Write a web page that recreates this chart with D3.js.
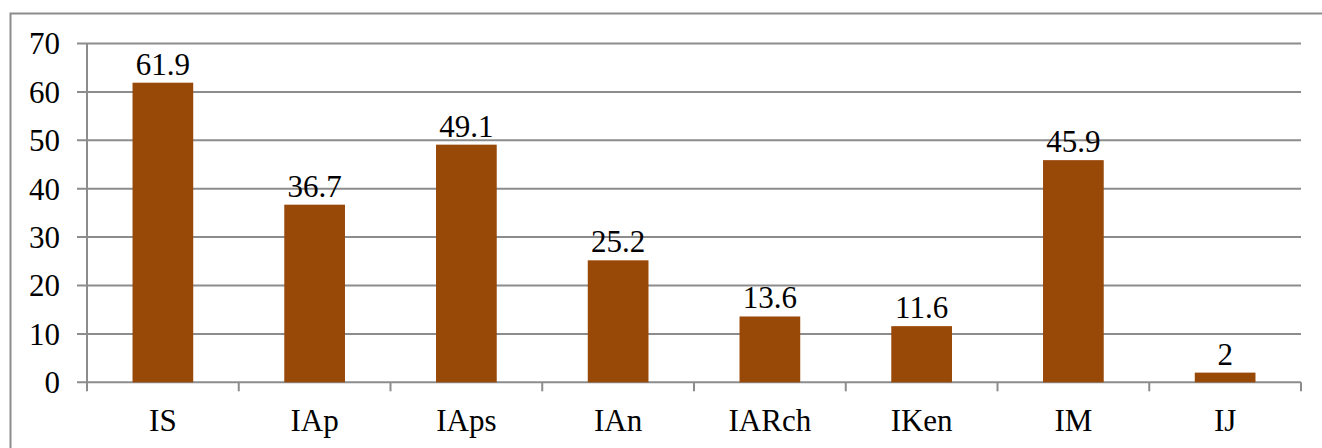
<!DOCTYPE html>
<html>
<head>
<meta charset="utf-8">
<script src="https://cdn.jsdelivr.net/npm/d3@7"></script>
<style>
  html, body { margin: 0; padding: 0; background: #fff; }
  svg { display: block; }
  text { font-family: "Liberation Serif", "Times New Roman", serif; fill: #000; }
</style>
</head>
<body>
<svg id="chart" width="1322" height="448"></svg>
<script>
// Index values per category
const categories = ["IS", "IAp", "IAps", "IAn", "IARch", "IKen", "IM", "IJ"];
const values = [61.9, 36.7, 49.1, 25.2, 13.6, 11.6, 45.9, 2];
const valueLabels = ["61.9", "36.7", "49.1", "25.2", "13.6", "11.6", "45.9", "2"];
const yTicks = [0, 10, 20, 30, 40, 50, 60, 70];

const W = 1322, H = 448;
const plot = { left: 87, right: 1301, top: 43.5, bottom: 382.3 };
const gridColor = "#8c8c8c";
const barColor = "#984807";
const fontSize = 31;

const svg = d3.select("#chart");

// chart frame
svg.append("rect")
  .attr("x", 10.5).attr("y", 13.5)
  .attr("width", W).attr("height", H)
  .attr("fill", "none")
  .attr("stroke", gridColor)
  .attr("stroke-width", 2);

const x = d3.scaleBand()
  .domain(categories)
  .range([plot.left, plot.right])
  .paddingInner(0.6)
  .paddingOuter(0.3);

const y = d3.scaleLinear()
  .domain([0, 70])
  .range([plot.bottom, plot.top]);

// horizontal gridlines with left tick stubs
svg.append("g")
  .selectAll("line")
  .data(yTicks)
  .join("line")
  .attr("x1", plot.left - 10)
  .attr("x2", plot.right)
  .attr("y1", d => y(d))
  .attr("y2", d => y(d))
  .attr("stroke", gridColor)
  .attr("stroke-width", 2);

// vertical axis line
svg.append("line")
  .attr("x1", plot.left).attr("x2", plot.left)
  .attr("y1", y(70)).attr("y2", plot.bottom + 9)
  .attr("stroke", gridColor)
  .attr("stroke-width", 2);

// category boundary ticks below the baseline
const step = x.step();
const boundaries = d3.range(categories.length + 1).map(i => plot.left + i * step);
svg.append("g")
  .selectAll("line")
  .data(boundaries.slice(1))
  .join("line")
  .attr("x1", d => d).attr("x2", d => d)
  .attr("y1", plot.bottom).attr("y2", plot.bottom + 9)
  .attr("stroke", gridColor)
  .attr("stroke-width", 2);

// y tick labels
svg.append("g")
  .selectAll("text")
  .data(yTicks)
  .join("text")
  .attr("x", 60)
  .attr("y", d => y(d))
  .attr("dy", "0.35em")
  .attr("text-anchor", "end")
  .attr("font-size", fontSize)
  .text(d => d);

// bars
svg.append("g")
  .selectAll("rect")
  .data(values)
  .join("rect")
  .attr("x", (d, i) => x(categories[i]))
  .attr("width", x.bandwidth())
  .attr("y", d => y(d))
  .attr("height", d => y(0) - y(d))
  .attr("fill", barColor);

// value labels above bars
svg.append("g")
  .selectAll("text")
  .data(values)
  .join("text")
  .attr("x", (d, i) => x(categories[i]) + x.bandwidth() / 2)
  .attr("y", d => y(d) - 8)
  .attr("text-anchor", "middle")
  .attr("font-size", fontSize)
  .text((d, i) => valueLabels[i]);

// category labels
svg.append("g")
  .selectAll("text")
  .data(categories)
  .join("text")
  .attr("x", d => x(d) + x.bandwidth() / 2)
  .attr("y", 431)
  .attr("text-anchor", "middle")
  .attr("font-size", fontSize)
  .text(d => d);
</script>
</body>
</html>
